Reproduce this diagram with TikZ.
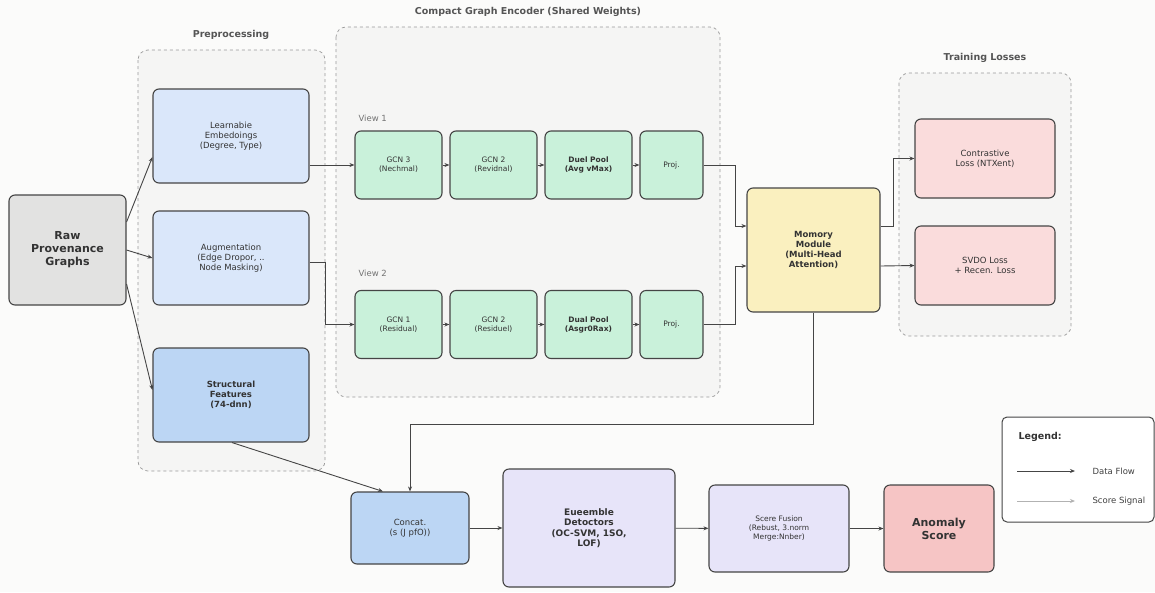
\documentclass[tikz,border=0pt]{standalone}
\usepackage{fontspec}
\setmainfont{DejaVu Sans}
\usetikzlibrary{arrows.meta,calc}
\definecolor{bgc}{HTML}{FBFBFA}
\definecolor{grpc}{HTML}{F5F5F4}
\definecolor{grpline}{HTML}{9A9A9A}
\definecolor{linec}{HTML}{454545}
\definecolor{grayfill}{HTML}{E2E2E1}
\definecolor{lblue}{HTML}{DAE7FA}
\definecolor{mblue}{HTML}{BCD6F4}
\definecolor{mint}{HTML}{C9F1DA}
\definecolor{yel}{HTML}{FAF0BF}
\definecolor{pinkc}{HTML}{FADCDC}
\definecolor{lav}{HTML}{E7E4F9}
\definecolor{redc}{HTML}{F6C5C5}
\definecolor{titlec}{HTML}{555555}
\tikzset{
  box/.style={draw=linec, line width=1.1pt, rounded corners=6pt, align=center, text=black!80, font=\fontsize{8.5}{10}\selectfont},
  grp/.style={draw=grpline, dashed, line width=0.7pt, rounded corners=10pt, fill=grpc},
  grptitle/.style={text=titlec, font=\bfseries\fontsize{9.5}{12}\selectfont},
  flow/.style={draw=linec, line width=0.9pt, -{Stealth[length=5pt,width=4pt]}},
  bfont/.style={font=\bfseries\fontsize{8.5}{10}\selectfont},
}
\begin{document}
\begin{tikzpicture}[x=1pt,y=-1pt]
\useasboundingbox (0,0) rectangle (1155,592);
\fill[bgc] (0,0) rectangle (1155,592);
% groups
\draw[grp] (138,50) rectangle (325,471);
\node[grptitle] (tpre) at (231,35) {Preprocessing};
\draw[grp] (336,27) rectangle (720,397);
\node[grptitle] (tenc) at (528,12) {Compact Graph Encoder (Shared Weights)};
\draw[grp] (899,73) rectangle (1071,336);
\node[grptitle] (tloss) at (985,58) {Training Losses};
% raw
\node[box, fill=grayfill, minimum width=117pt, minimum height=110pt, font=\bfseries\fontsize{11}{13}\selectfont] (raw) at (67.5,250) {Raw\\Provenance\\Graphs};
% preprocessing
\node[box, fill=lblue, minimum width=156pt, minimum height=94pt] (learn) at (231,136) {Learnabie\\Embedoings\\(Degree, Type)};
\node[box, fill=lblue, minimum width=156pt, minimum height=94pt] (aug) at (231,258) {Augmentation\\(Edge Dropor, ..\\Node Masking)};
\node[box, fill=mblue, minimum width=156pt, minimum height=94pt, bfont] (struct) at (231,395) {Structural\\Features\\(74-dnn)};
% encoder
\node[text=black!55, font=\fontsize{8.5}{10}\selectfont, anchor=west] (v1) at (355,118) {View 1};
\node[text=black!55, font=\fontsize{8.5}{10}\selectfont, anchor=west] (v2) at (355,273) {View 2};
\tikzset{gbox/.style={box, fill=mint, minimum width=87pt, minimum height=68pt, font=\fontsize{7.5}{9}\selectfont}}
\node[gbox] (a1) at (398.5,165) {GCN 3\\(Nechmal)};
\node[gbox] (a2) at (493.5,165) {GCN 2\\(Revidnal)};
\node[gbox, font=\bfseries\fontsize{7.5}{9}\selectfont] (a3) at (588.5,165) {Duel Pool\\(Avg vMax)};
\node[gbox, minimum width=63pt] (a4) at (671.5,165) {Proj.};
\node[gbox] (b1) at (398.5,324.5) {GCN 1\\(Residual)};
\node[gbox] (b2) at (493.5,324.5) {GCN 2\\(Residuel)};
\node[gbox, font=\bfseries\fontsize{7.5}{9}\selectfont] (b3) at (588.5,324.5) {Dual Pool\\(Asgr0Rax)};
\node[gbox, minimum width=63pt] (b4) at (671.5,324.5) {Proj.};
% memory
\node[box, fill=yel, minimum width=133pt, minimum height=124pt, bfont] (mem) at (813.5,250) {Momory\\Module\\(Multi-Head\\Attention)};
% losses
\node[box, fill=pinkc, minimum width=140pt, minimum height=79pt] (con) at (985,158.5) {Contrastive\\Loss (NTXent)};
\node[box, fill=pinkc, minimum width=140pt, minimum height=79pt] (svdo) at (985,265.5) {SVDO Loss\\+ Recen. Loss};
% bottom
\node[box, fill=mblue, minimum width=118pt, minimum height=72pt] (concat) at (410,528) {Concat.\\(s (J pfO))};
\node[box, fill=lav, minimum width=172pt, minimum height=118pt, font=\bfseries\fontsize{9}{10.5}\selectfont] (ens) at (589,528) {Eueemble\\Detoctors\\(OC-SVM, 1SO,\\LOF)};
\node[box, fill=lav, minimum width=140pt, minimum height=87pt, font=\fontsize{7.5}{9}\selectfont] (fus) at (779,528.5) {Scere Fusion\\(Rebust, 3.norm\\Merge:Nnber)};
\node[box, fill=redc, minimum width=110pt, minimum height=87pt, font=\bfseries\fontsize{11}{13}\selectfont] (anom) at (939,528.5) {Anomaly\\Score};
% legend
\node[draw=linec, line width=1pt, rounded corners=5pt, fill=white, minimum width=152pt, minimum height=105pt] (leg) at (1078,469.5) {};
\node[font=\bfseries\fontsize{9.5}{11}\selectfont, text=black!80, anchor=west] (legt) at (1015,437) {Legend:};
\coordinate (l1a) at (1017,471);
\coordinate (l1b) at (1075,471);
\coordinate (l2a) at (1017,501);
\coordinate (l2b) at (1075,501);
\draw[flow] (l1a) -- (l1b);
\draw[draw=black!30, line width=0.8pt, -{Stealth[length=5pt,width=4pt]}] (l2a) -- (l2b);
\node[font=\fontsize{8.5}{10}\selectfont, text=black!75, anchor=west] (lt1) at (1089,471) {Data Flow};
\node[font=\fontsize{8.5}{10}\selectfont, text=black!75, anchor=west] (lt2) at (1089,501) {Score Signal};
% connectors
\draw[flow] ($(raw.east)+(0,-28)$) -- ($(learn.west)+(0,21)$);
\draw[flow] (raw.east) -- (aug.west);
\draw[flow] ($(raw.east)+(0,34)$) -- ($(struct.west)+(0,-5)$);
\draw[flow] ($(learn.east)+(0,29)$) -- (a1.west);
\draw[flow] ($(aug.east)+(0,4)$) -- ++(16,0) |- (b1.west);
\draw[flow] (a1) -- (a2);
\draw[flow] (a2) -- (a3);
\draw[flow] (a3) -- (a4);
\draw[flow] (b1) -- (b2);
\draw[flow] (b2) -- (b3);
\draw[flow] (b3) -- (b4);
\draw[flow] (a4.east) -- ++(32,0) |- ($(mem.west)+(0,-24)$);
\draw[flow] (b4.east) -- ++(32,0) |- ($(mem.west)+(0,16)$);
\draw[flow] ($(mem.east)+(0,-24)$) -- ++(13,0) |- (con.west);
\draw[flow] ($(mem.east)+(0,16)$) -- (svdo.west);
\draw[flow] (mem.south) -- ++(0,112) -| (concat.north);
\draw[flow] ($(struct.south)+(1,0)$) -- ($(concat.north)+(-27,0)$);
\draw[flow] (concat) -- (ens);
\draw[flow] (ens) -- (fus);
\draw[flow] (fus) -- (anom);
\end{tikzpicture}
\end{document}
